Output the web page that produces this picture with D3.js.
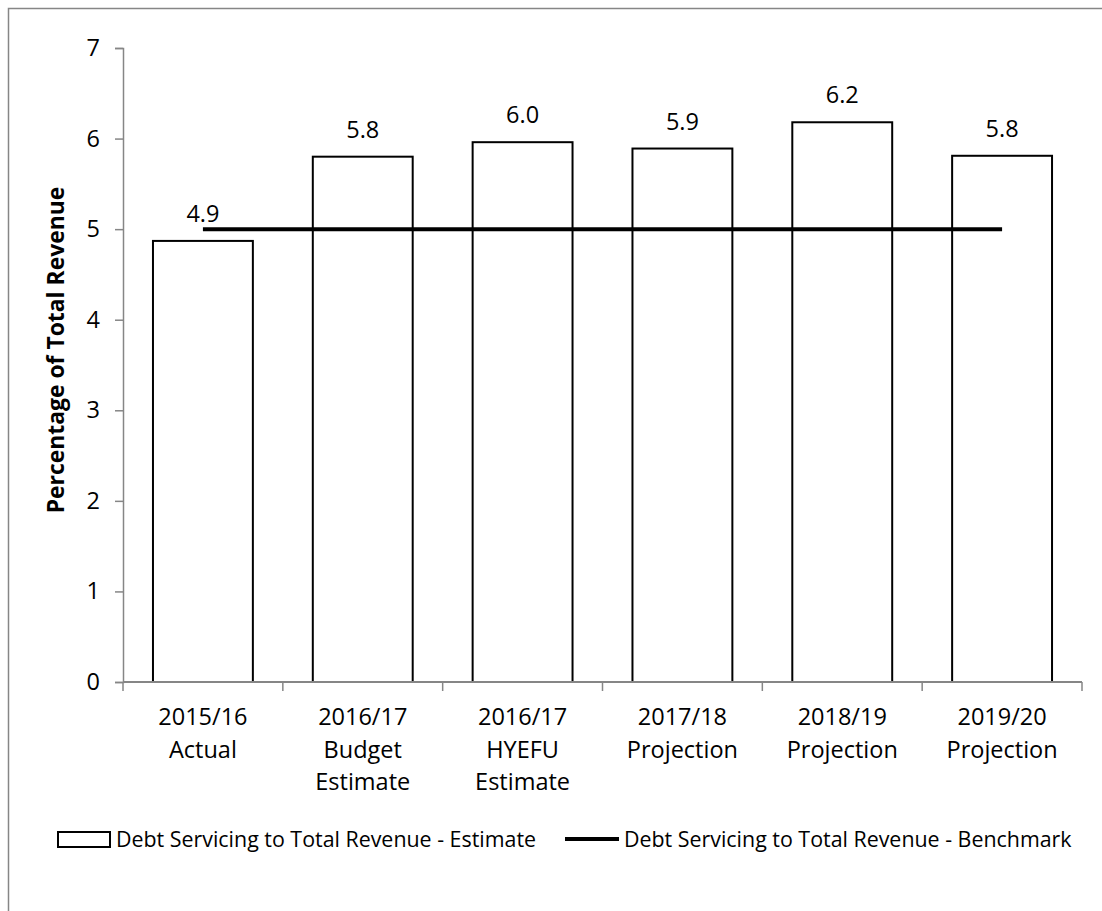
<!DOCTYPE html>
<html>
<head>
<meta charset="utf-8">
<script src="https://cdn.jsdelivr.net/npm/d3@7"></script>
<style>
  html, body { margin: 0; padding: 0; background: #fff; }
  svg { display: block; font-family: "Open Sans", "Noto Sans", sans-serif; }
</style>
</head>
<body>
<svg id="chart" width="1102" height="911"></svg>
<script>
// Debt servicing as a share of total revenue
const categories = [
  ["2015/16", "Actual"],
  ["2016/17", "Budget", "Estimate"],
  ["2016/17", "HYEFU", "Estimate"],
  ["2017/18", "Projection"],
  ["2018/19", "Projection"],
  ["2019/20", "Projection"]
];
const estimateValues = [4.87, 5.80, 5.96, 5.89, 6.18, 5.81];
const benchmarkValues = [5.0, 5.0, 5.0, 5.0, 5.0, 5.0];
const yTicks = [0, 1, 2, 3, 4, 5, 6, 7];
const seriesNames = [
  "Debt Servicing to Total Revenue - Estimate",
  "Debt Servicing to Total Revenue - Benchmark"
];
const yTitle = "Percentage of Total Revenue";

const svg = d3.select("#chart");
const axisGrey = "#868686";

// outer chart frame (right and bottom edges fall outside the view)
svg.append("rect")
  .attr("x", 8.5).attr("y", 8.5)
  .attr("width", 1120).attr("height", 940)
  .attr("fill", "none").attr("stroke", axisGrey).attr("stroke-width", 1.5);

const plot = { left: 123, right: 1082, top: 48, bottom: 682 };
const keys = categories.map((c, i) => i);

const x = d3.scaleBand()
  .domain(keys)
  .range([plot.left, plot.right])
  .paddingInner(0.375)
  .paddingOuter(0.1875);

const y = d3.scaleLinear().domain([0, 7]).range([plot.bottom, plot.top]);

// y axis
const yAxis = svg.append("g")
  .attr("transform", `translate(${plot.left},0)`)
  .call(d3.axisLeft(y).tickValues(yTicks).tickSize(8).tickPadding(15).tickFormat(d3.format("d")));
yAxis.select(".domain").attr("stroke", axisGrey).attr("stroke-width", 1.5);
yAxis.selectAll(".tick line").attr("stroke", axisGrey).attr("stroke-width", 1.5);
yAxis.selectAll(".tick text")
  .attr("font-family", "Open Sans").attr("font-size", 23.5).attr("fill", "#000");

// bars
svg.append("g").selectAll("rect")
  .data(estimateValues)
  .join("rect")
  .attr("x", (d, i) => x(i))
  .attr("y", d => y(d))
  .attr("width", x.bandwidth())
  .attr("height", d => y(0) - y(d))
  .attr("fill", "#fff")
  .attr("stroke", "#000")
  .attr("stroke-width", 2);

// x axis: line and ticks at category boundaries
const step = x.step();
const boundaries = d3.range(categories.length + 1).map(i => plot.left + i * step);
const xAxisG = svg.append("g");
xAxisG.append("line")
  .attr("x1", plot.left).attr("x2", plot.right)
  .attr("y1", y(0)).attr("y2", y(0))
  .attr("stroke", axisGrey).attr("stroke-width", 2);
xAxisG.selectAll("line.tick")
  .data(boundaries)
  .join("line")
  .attr("class", "tick")
  .attr("x1", d => d).attr("x2", d => d)
  .attr("y1", y(0)).attr("y2", y(0) + 9)
  .attr("stroke", axisGrey).attr("stroke-width", 1.5);

// category labels
const catText = svg.append("g").selectAll("text")
  .data(categories)
  .join("text")
  .attr("text-anchor", "middle")
  .attr("font-size", 23.5)
  .attr("fill", "#000");
catText.selectAll("tspan")
  .data((d, i) => d.map(line => ({ line, i })))
  .join("tspan")
  .attr("x", d => x(d.i) + x.bandwidth() / 2)
  .attr("y", (d, j) => 725 + j * 32.5)
  .text(d => d.line);

// benchmark line
const line = d3.line()
  .x((d, i) => x(i) + x.bandwidth() / 2)
  .y(d => y(d));
svg.append("path")
  .datum(benchmarkValues)
  .attr("d", line)
  .attr("fill", "none")
  .attr("stroke", "#000")
  .attr("stroke-width", 4);

// value labels
svg.append("g").selectAll("text")
  .data(estimateValues)
  .join("text")
  .attr("x", (d, i) => x(i) + x.bandwidth() / 2)
  .attr("y", d => y(d) - 19)
  .attr("text-anchor", "middle")
  .attr("font-size", 23.5)
  .attr("fill", "#000")
  .text(d => d3.format(".1f")(d));

// y axis title
svg.append("text")
  .attr("transform", `translate(64,350) rotate(-90)`)
  .attr("text-anchor", "middle")
  .attr("font-size", 22.9)
  .attr("font-weight", "bold")
  .attr("fill", "#000")
  .text(yTitle);

// legend
const legend = svg.append("g");
legend.append("rect")
  .attr("x", 58).attr("y", 832).attr("width", 52).attr("height", 15)
  .attr("fill", "#fff").attr("stroke", "#000").attr("stroke-width", 2);
legend.append("text")
  .attr("x", 116).attr("y", 847)
  .attr("font-size", 21.4).attr("fill", "#000")
  .text(seriesNames[0]);
legend.append("line")
  .attr("x1", 565).attr("x2", 619).attr("y1", 839).attr("y2", 839)
  .attr("stroke", "#000").attr("stroke-width", 4);
legend.append("text")
  .attr("x", 624).attr("y", 847)
  .attr("font-size", 21.4).attr("fill", "#000")
  .text(seriesNames[1]);
</script>
</body>
</html>
